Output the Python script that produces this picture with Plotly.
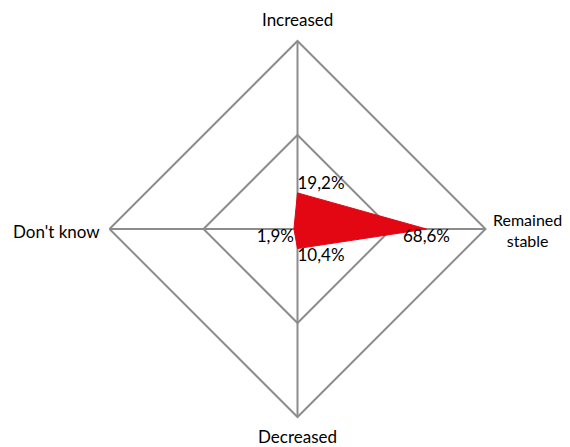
import plotly.graph_objects as go

categories = ["Increased", "Remained stable", "Decreased", "Don't know"]
shares = [19.2, 68.6, 10.4, 1.9]
share_labels = ["19,2%", "68,6%", "10,4%", "1,9%"]
label_positions = ["top right", "bottom center", "bottom right", "bottom left"]

# the page body adds an 8px margin, so the figure is drawn 8px smaller
OFF = 8
W, H = 570 - OFF, 447 - OFF
cx, cy, R = 297.5 - OFF, 229 - OFF, 188

FONT = dict(family="Lato", size=17, color="#000000")

fig = go.Figure()

fig.add_trace(go.Scatterpolar(
    r=shares + [shares[0]],
    theta=categories + [categories[0]],
    mode="lines",
    fill="toself",
    fillcolor="#E30613",
    line=dict(color="#E30613", width=1),
    hoverinfo="skip",
    showlegend=False
))

fig.add_trace(go.Scatterpolar(
    r=shares,
    theta=categories,
    mode="text",
    text=share_labels,
    textposition=label_positions,
    textfont=FONT,
    showlegend=False
))

fig.update_layout(
    width=W,
    height=H,
    paper_bgcolor="white",
    plot_bgcolor="white",
    margin=dict(l=0, r=0, t=0, b=0),
    font=FONT,
    polar=dict(
        domain=dict(x=[(cx - R) / W, (cx + R) / W],
                    y=[(H - cy - R) / H, (H - cy + R) / H]),
        gridshape="linear",
        bgcolor="white",
        radialaxis=dict(
            range=[0, 100],
            tickvals=[50],
            showticklabels=False,
            ticks="",
            showline=False,
            gridcolor="#8c8c8c",
            gridwidth=2
        ),
        angularaxis=dict(
            rotation=90,
            direction="clockwise",
            showticklabels=False,
            ticks="",
            showline=True,
            linecolor="#8c8c8c",
            linewidth=2,
            gridcolor="#8c8c8c",
            gridwidth=2
        )
    )
)

# category names around the chart (page pixel positions)
name_pos = [(297, 20), (527, 230), (297, 436), (56, 232)]
name_text = ["Increased", "Remained<br>stable", "Decreased", "Don't know"]
name_size = [17, 16, 17, 17]
for (px_, py_), txt, sz in zip(name_pos, name_text, name_size):
    fig.add_annotation(x=(px_ - OFF) / W, y=(H - (py_ - OFF)) / H,
                       xref="paper", yref="paper", xanchor="center", yanchor="middle",
                       text=txt, showarrow=False, font=dict(size=sz))

fig.write_html("out.html")
